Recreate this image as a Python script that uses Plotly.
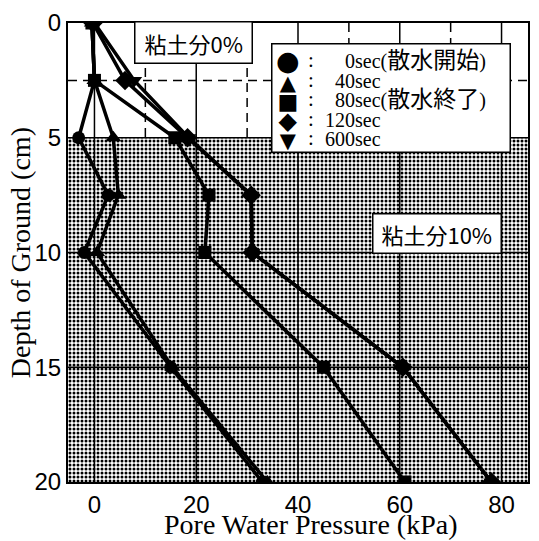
import plotly.graph_objects as go

# ---------------- data ----------------
depth = [0, 2.5, 5, 7.5, 10, 15, 20]            # cm
p_0s = [-0.5, 0.0, -3.1, 2.7, -2.0, 15.0, 33.0]   # kPa
p_40s = [-0.5, 0.0, 3.7, 4.7, 0.5, 15.3, 34.0]
p_80s = [-0.5, 0.0, 15.8, 22.5, 21.7, 45.0, 61.0]
p_120s = [-0.3, 6.0, 18.3, 30.8, 31.0, 60.6, 78.0]
p_600s = [0.0, 7.8, 18.5, 30.8, 31.0, 60.6, 78.0]

series_time = ["0", "40", "80", "120", "600"]
series_note = ["散水開始", "", "散水終了", "", ""]
series_vals = [p_0s, p_40s, p_80s, p_120s, p_600s]
series_symbol = ["circle", "triangle-up", "square", "diamond", "triangle-down"]
legend_glyph = ["●", "▲", "■", "◆", "▼"]

x_ticks = [0, 20, 40, 60, 80]
y_ticks = [0, 5, 10, 15, 20]
x_range = [-5.2, 85.2]
y_range = [20, 0]
clay_top, clay_bottom = 5, 20          # clay 10% layer
grid_dash_x = [10, 30, 50, 70]          # dashed grid in the upper layer
grid_dash_y = [2.5]
grid_solid_y = [5, 10, 15]

x_title = "Pore Water Pressure (kPa)"
y_title = "Depth of Ground (cm)"

W, H = 539, 541
ML, MR, MT, MB = 68, 9, 20, 59
PW, PH = W - ML - MR, H - MT - MB


def px(xp):
    return (xp - ML) / PW


def py(yp):
    return 1 - (yp - MT) / PH


SERIF = "Liberation Serif, Times New Roman, Noto Sans CJK JP, serif"
SANS = "Liberation Sans, Arial, sans-serif"
CJK = "Noto Sans CJK JP, sans-serif"

fig = go.Figure()

# stippled clay layer
fig.add_trace(go.Scatter(
    x=[x_range[0], x_range[1], x_range[1], x_range[0], x_range[0]],
    y=[clay_top, clay_top, clay_bottom, clay_bottom, clay_top],
    mode="lines", line=dict(width=0), fill="toself",
    fillcolor="white",
    fillpattern=dict(shape=".", fgcolor="black", bgcolor="white",
                     size=4, solidity=0.45, fillmode="replace"),
    hoverinfo="skip", showlegend=False))

sizes = [13, 14, 13, 15, 14]
for vals, sym, sz, t in zip(series_vals, series_symbol, sizes, series_time):
    fig.add_trace(go.Scatter(
        x=vals, y=depth, mode="lines+markers", name=t + "sec",
        line=dict(color="black", width=3.5),
        marker=dict(symbol=sym, size=sz, color="black"),
        showlegend=False))

shapes = []
for gx in x_ticks:
    shapes.append(dict(type="line", xref="x", yref="paper", x0=gx, x1=gx, y0=0, y1=1,
                       line=dict(color="black", width=1.5), layer="above"))
for gy in grid_solid_y:
    shapes.append(dict(type="line", xref="paper", yref="y", x0=0, x1=1, y0=gy, y1=gy,
                       line=dict(color="black", width=1.5), layer="above"))
for gx in grid_dash_x:
    shapes.append(dict(type="line", xref="x", yref="y", x0=gx, x1=gx, y0=0, y1=clay_top,
                       line=dict(color="black", width=1.5, dash="9px,6px"), layer="above"))
for gy in grid_dash_y:
    shapes.append(dict(type="line", xref="paper", yref="y", x0=0, x1=1, y0=gy, y1=gy,
                       line=dict(color="black", width=1.5, dash="9px,6px"), layer="above"))

annotations = []
# layer labels
annotations.append(dict(xref="paper", yref="paper", x=px(194.5), y=py(40),
                        xanchor="center", yanchor="middle",
                        text="\u00a0粘土分0%\u00a0", showarrow=False,
                        font=dict(family=CJK, size=22, color="black"),
                        bgcolor="white", bordercolor="black", borderwidth=1.5, borderpad=4))
annotations.append(dict(xref="paper", yref="paper", x=px(438.5), y=py(231.5),
                        xanchor="center", yanchor="middle",
                        text="\u00a0粘土分10%\u00a0", showarrow=False,
                        font=dict(family=CJK, size=22, color="black"),
                        bgcolor="white", bordercolor="black", borderwidth=1.5, borderpad=3))
# legend box
annotations.append(dict(xref="paper", yref="paper", x=px(272), y=py(40),
                        xanchor="left", yanchor="top", text=" ", showarrow=False,
                        width=237, height=107, bgcolor="white",
                        bordercolor="black", borderwidth=1.5, borderpad=0))

# legend columns (base size 15 -> 19.5 px line spacing as in the reference)
glyph_px = [27, 21, 22, 24, 21]
glyph_lines = "<br>".join(
    f"<span style='font-size:{s}px'>{g}</span>" for g, s in zip(legend_glyph, glyph_px))
colon_lines = "<br>".join("<span style='font-size:21px'>:</span>" for _ in legend_glyph)


def label_line(t, n):
    s = "<span style='font-size:20px'>" + "\u00a0" * (2 * (3 - len(t))) + t + "sec"
    if n:
        s += "(<span style='font-size:23px'>" + n + "</span>)"
    return s + "</span>"


label_lines = "<br>".join(label_line(t, n) for t, n in zip(series_time, series_note))
leg_mid = py(96)
annotations.append(dict(xref="paper", yref="paper", x=px(289), y=leg_mid,
                        xanchor="center", yanchor="middle", align="center",
                        text=glyph_lines, showarrow=False,
                        font=dict(family="DejaVu Sans", size=15, color="black")))
annotations.append(dict(xref="paper", yref="paper", x=px(312), y=leg_mid,
                        xanchor="center", yanchor="middle", align="center",
                        text=colon_lines, showarrow=False,
                        font=dict(family=SERIF, size=15, color="black")))
annotations.append(dict(xref="paper", yref="paper", x=px(324), y=leg_mid,
                        xanchor="left", yanchor="middle", align="left",
                        text=label_lines, showarrow=False,
                        font=dict(family=SERIF, size=15, color="black")))

# axis titles
annotations.append(dict(xref="paper", yref="paper", x=px(311.5), y=py(524.5),
                        xanchor="center", yanchor="middle", text=x_title, showarrow=False,
                        font=dict(family=SERIF, size=28, color="black")))
annotations.append(dict(xref="paper", yref="paper", x=px(21), y=py(251.5),
                        xanchor="center", yanchor="middle", text=y_title, showarrow=False,
                        textangle=-90,
                        font=dict(family=SERIF, size=28, color="black")))

fig.update_layout(
    width=W, height=H,
    margin=dict(l=ML, r=MR, t=MT, b=MB),
    paper_bgcolor="white", plot_bgcolor="white",
    shapes=shapes, annotations=annotations,
    showlegend=False,
    xaxis=dict(range=x_range, tickvals=x_ticks, ticks="", showgrid=False, zeroline=False,
               showline=True, mirror=True, linecolor="black", linewidth=2,
               tickfont=dict(family=SANS, size=24, color="black")),
    yaxis=dict(range=y_range, tickvals=y_ticks, ticks="", showgrid=False, zeroline=False,
               showline=True, mirror=True, linecolor="black", linewidth=2,
               tickfont=dict(family=SANS, size=24, color="black")),
)

fig.write_html("out.html")
